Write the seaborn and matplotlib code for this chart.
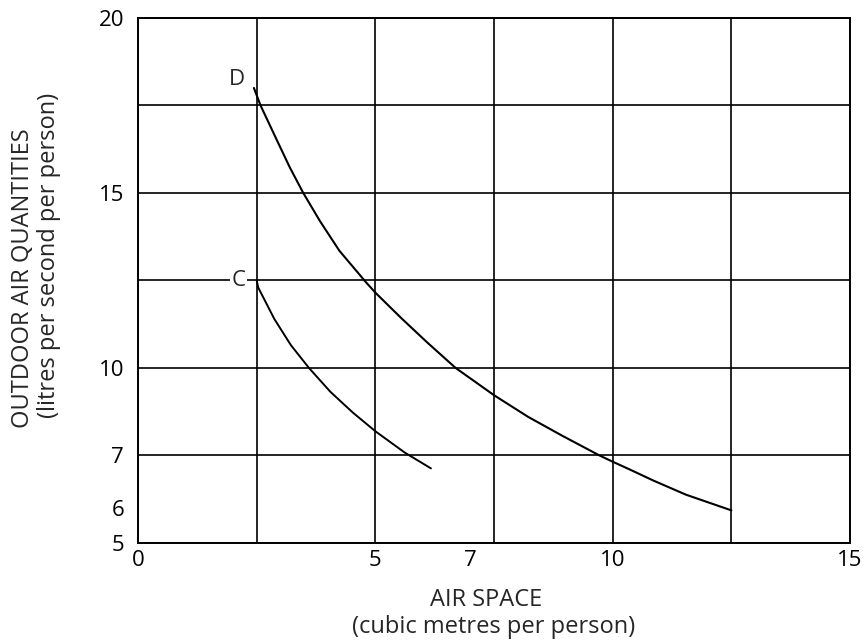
import matplotlib
matplotlib.use("Agg")
import matplotlib.pyplot as plt
import seaborn as sns

# Curve D (upper)
d_x = [2.44, 2.58, 2.92, 3.2, 3.48, 3.83, 4.24, 4.8, 5.0, 5.54, 6.09, 6.69,
       7.5, 8.22, 8.94, 9.72, 10.0, 10.34, 10.86, 11.54, 12.5]
d_y = [18.0, 17.5, 16.52, 15.72, 15.0, 14.2, 13.35, 12.45, 12.15, 11.43, 10.73, 10.0,
       9.22, 8.6, 8.06, 7.5, 7.32, 7.11, 6.78, 6.38, 5.93]

# Curve C (lower)
c_x = [2.5, 2.53, 2.87, 3.22, 3.6, 4.05, 4.52, 5.0, 5.62, 6.17]
c_y = [12.5, 12.3, 11.4, 10.65, 10.0, 9.32, 8.73, 8.19, 7.58, 7.13]

# Grid / tick labels
x_grid = [0, 2.5, 5, 7.5, 10, 12.5, 15]
x_labels = ["0", "", "5", "", "10", "", "15"]
y_grid = [5, 7.5, 10, 12.5, 15, 17.5, 20]
y_labels = ["5", "7", "10", "", "15", "", "20"]
x_extra, x_extra_label = [7], ["7"]
y_extra, y_extra_label = [6], ["6"]

sns.set_style("white")
plt.rcParams["font.family"] = ["Open Sans", "DejaVu Sans"]

fig = plt.figure(figsize=(8.63, 6.41), dpi=100)
ax = fig.add_axes([0.160, 0.153, 0.825, 0.819])

sns.lineplot(x=d_x, y=d_y, ax=ax, color="black", linewidth=1.5, estimator=None)
sns.lineplot(x=c_x, y=c_y, ax=ax, color="black", linewidth=1.4, estimator=None)

ax.set_xlim(0, 15)
ax.set_ylim(5, 20)
ax.set_xticks(x_grid, labels=x_labels)
ax.set_yticks(y_grid, labels=y_labels)
ax.set_xticks(x_extra, labels=x_extra_label, minor=True)
ax.set_yticks(y_extra, labels=y_extra_label, minor=True)
ax.tick_params(which="major", length=0, labelsize=16, colors="black")
ax.tick_params(which="minor", length=9, width=1.2, direction="inout",
               labelsize=16, colors="black")
ax.tick_params(axis="x", which="major", pad=5)
ax.tick_params(axis="x", which="minor", pad=0.5)
ax.tick_params(axis="y", which="major", pad=10)
ax.tick_params(axis="y", which="minor", pad=5.5)
ax.grid(True, which="major", color="black", linewidth=1.2)
for s in ax.spines.values():
    s.set_color("black")
    s.set_linewidth(1.4)

ax.text(2.08, 18.23, "D", fontsize=16, ha="center", va="center")
ax.text(2.12, 12.5, "C", fontsize=16, ha="center", va="center",
        bbox=dict(facecolor="white", edgecolor="none", pad=1))

fig.text(486 / 863, 1 - 600 / 641, "AIR SPACE", fontsize=17, ha="center", va="center")
fig.text(494 / 863, 1 - 627 / 641, "(cubic metres per person)", fontsize=17,
         ha="center", va="center")
fig.text(23 / 863, 1 - 278 / 641, "OUTDOOR AIR QUANTITIES", fontsize=17,
         rotation=90, ha="center", va="center")
fig.text(49 / 863, 1 - 255 / 641, "(litres per second per person)", fontsize=17,
         rotation=90, ha="center", va="center")

plt.savefig("out.png", dpi=100)
